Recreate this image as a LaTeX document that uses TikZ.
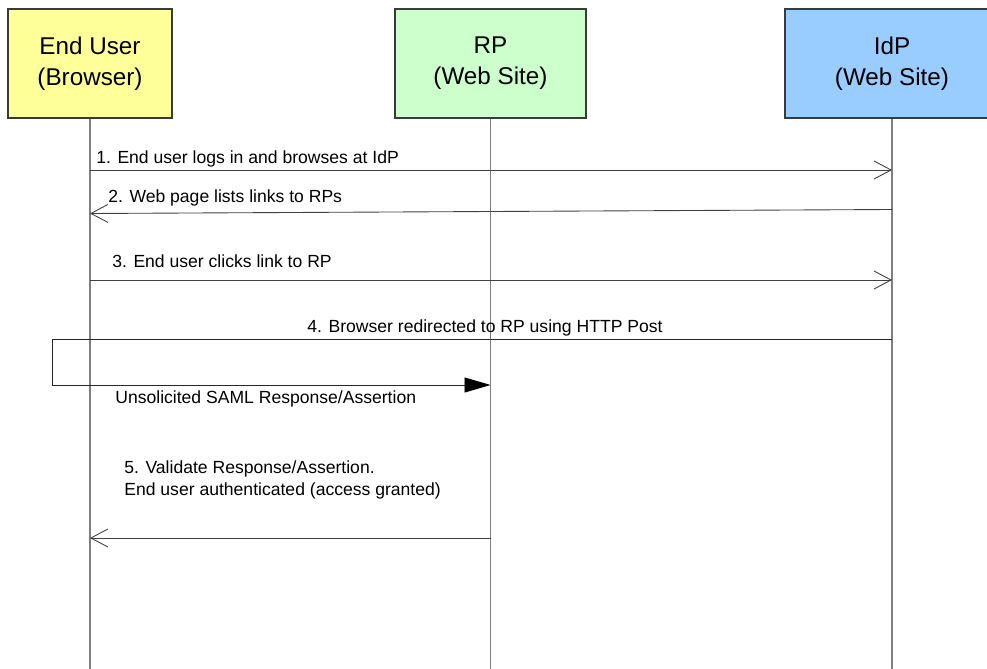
\documentclass[tikz,border=0pt]{standalone}
\usepackage{fontspec}
\setmainfont{Liberation Sans}
\usetikzlibrary{arrows.meta,positioning,calc}
\definecolor{ink}{HTML}{000000}
\definecolor{frame}{HTML}{3A3A3A}
\definecolor{lifeline}{HTML}{7F7F7F}
\definecolor{userfill}{HTML}{FFFF99}
\definecolor{rpfill}{HTML}{CCFFCC}
\definecolor{idpfill}{HTML}{99CCFF}
\tikzset{
  party/.style={draw=frame, fill=#1, line width=0.7pt, align=center, minimum height=2.18cm, font=\fontsize{13.8}{17.5}\selectfont, text=ink},
  life/.style={draw=lifeline, line width=0.8pt},
  msg/.style={draw=ink!75, line width=0.5pt, -{Straight Barb[length=3.4mm,width=3.6mm,line width=0.5pt]}},
  post/.style={draw=ink!85, line width=0.5pt, -{Triangle[length=5.2mm,width=3mm,color=ink]}},
  lab/.style={font=\fontsize{10}{12}\selectfont, text=ink, align=left, inner sep=0pt},
}
\begin{document}
\begin{tikzpicture}[x=0.02cm,y=-0.02cm]
  \useasboundingbox (0,0) rectangle (987,669);
  % parties
  \node[party=userfill, minimum width=3.28cm] (user) at (90,63.5) {End User\\(Browser)};
  \node[party=rpfill, minimum width=3.82cm] (rp) at (490.5,63.5) {RP\\(Web Site)};
  \node[party=idpfill, minimum width=4.28cm] (idp) at (892,63.5) {IdP\\(Web Site)};
  % lifelines
  \foreach \p in {user,rp,idp} {
    \coordinate (\p-end) at (\p.south |- 0,669);
    \draw[life] (\p.south) -- (\p-end);
  }
  % message end points
  \foreach \n/\y in {m1/170, m3/280, m4/339, m5/538} {
    \coordinate (\n-user) at (user.south |- 0,\y);
    \coordinate (\n-rp) at (rp.south |- 0,\y);
    \coordinate (\n-idp) at (idp.south |- 0,\y);
  }
  \coordinate (m2-idp) at (idp.south |- 0,209.5);
  \coordinate (m2-user) at (user.south |- 0,213.5);
  \coordinate (bend-top) at (52,339);
  \coordinate (bend-low) at (52,385);
  \coordinate (post-rp) at (rp.south |- 0,385);
  % messages
  \draw[msg] (m1-user) -- (m1-idp);
  \draw[msg] (m2-idp) -- (m2-user);
  \draw[msg] (m3-user) -- (m3-idp);
  \draw[post] (m4-idp) -- (bend-top) -- (bend-low) -- (post-rp);
  \draw[msg] (m5-rp) -- (m5-user);
  % labels
  \node[lab, anchor=base west] (l1) at (96,163) {1. End user logs in and browses at IdP};
  \node[lab, anchor=base west] (l2) at (108,202) {2. Web page lists links to RPs};
  \node[lab, anchor=base west] (l3) at (112,267) {3. End user clicks link to RP};
  \node[lab, anchor=base] (l4) at (485,332) {4. Browser redirected to RP using HTTP Post};
  \node[lab, anchor=base west] (l4b) at (115,403) {Unsolicited SAML Response/Assertion};
  \node[lab, anchor=base west] (l5) at (124,495) {5. Validate Response/Assertion.\\End user authenticated (access granted)};
\end{tikzpicture}
\end{document}
